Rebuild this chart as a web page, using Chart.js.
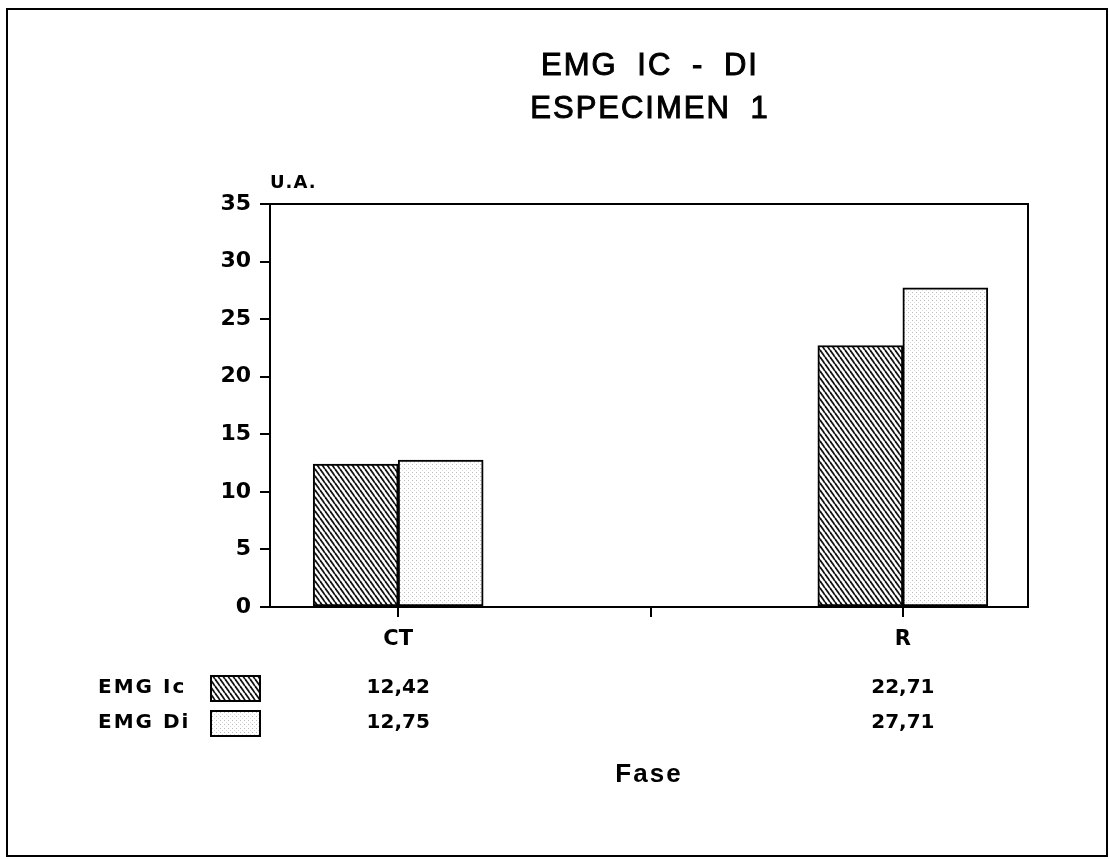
<!DOCTYPE html>
<html>
<head>
<meta charset="utf-8">
<script src="https://cdn.jsdelivr.net/npm/chart.js@4.4.1/dist/chart.umd.min.js"></script>
<style>
  html, body { margin: 0; padding: 0; background: #fff; }
  #contenedor { width: 1109px; height: 859px; position: relative; }
</style>
</head>
<body>
<div id="contenedor"><canvas id="emgChart"></canvas></div>
<script>
// Datos
const fases = ['CT', 'R'];
const emgIc = [12.42, 22.71];
const emgDi = [12.75, 27.71];
const nombresSeries = ['EMG Ic', 'EMG Di'];
const ticksY = [0, 5, 10, 15, 20, 25, 30, 35];
const titulo = ['EMG IC - DI', 'ESPECIMEN 1'];
const unidad = 'U.A.';
const tituloEjeX = 'Fase';

// Tramas de relleno (rayado y punteado)
function crearRayado() {
    const c = document.createElement('canvas');
    c.width = 5; c.height = 7;
    const g = c.getContext('2d');
    g.fillStyle = '#fff';
    g.fillRect(0, 0, 5, 7);
    g.strokeStyle = '#111';
    g.lineWidth = 1.8;
    for (const k of [-5, 0, 5]) {
        g.beginPath();
        g.moveTo(k, 0);
        g.lineTo(k + 5, 7);
        g.stroke();
    }
    return g.createPattern(c, 'repeat');
}

function crearPunteado() {
    const c = document.createElement('canvas');
    c.width = 4; c.height = 4;
    const g = c.getContext('2d');
    g.fillStyle = '#fff';
    g.fillRect(0, 0, 4, 4);
    g.fillStyle = '#bcbcbc';
    g.fillRect(0, 0, 1, 1);
    g.fillStyle = '#dadada';
    g.fillRect(2, 2, 1, 1);
    return g.createPattern(c, 'repeat');
}

const rayado = crearRayado();
const punteado = crearPunteado();
const rellenos = [rayado, punteado];

const fuente = 'DejaVu Sans';
const formato = v => v.toFixed(2).replace('.', ',');

// Marco, titulo, unidad y tabla de datos bajo el eje
const extras = {
    id: 'extras',
    afterDraw(chart) {
        const ctx = chart.ctx;
        const area = chart.chartArea;
        const xs = chart.scales.x;
        const centro = (area.left + area.right) / 2;
        ctx.save();

        // marco exterior
        ctx.strokeStyle = '#000';
        ctx.lineWidth = 2;
        ctx.strokeRect(7, 9, 1100, 847);

        // lados superior y derecho del area
        ctx.beginPath();
        ctx.moveTo(area.left, area.top);
        ctx.lineTo(area.right, area.top);
        ctx.lineTo(area.right, area.bottom);
        ctx.stroke();

        // titulo
        ctx.fillStyle = '#000';
        ctx.font = '31px "Liberation Sans"';
        ctx.textAlign = 'center';
        ctx.textBaseline = 'alphabetic';
        ctx.letterSpacing = '2px';
        ctx.wordSpacing = '9px';
        ctx.lineWidth = 1;
        [75, 118].forEach((y, i) => {
            ctx.fillText(titulo[i], centro + 1, y);
            ctx.strokeText(titulo[i], centro + 1, y);
        });
        ctx.letterSpacing = '0px';
        ctx.wordSpacing = '0px';
        ctx.lineWidth = 2;

        // unidad
        ctx.font = 'bold 18px "' + fuente + '"';
        ctx.letterSpacing = '1px';
        ctx.textAlign = 'left';
        ctx.textBaseline = 'middle';
        ctx.fillText(unidad, area.left, 183);

        // tabla de valores
        const series = chart.data.datasets;
        const filas = [688, 723];
        series.forEach((ds, i) => {
            const y = filas[i];
            ctx.font = 'bold 20px "' + fuente + '"';
            ctx.letterSpacing = '2px';
            ctx.textAlign = 'left';
            ctx.fillStyle = '#000';
            ctx.fillText(ds.label, 98, y);
            ctx.fillStyle = rellenos[i];
            ctx.fillRect(211, y - 12, 49, 25);
            ctx.strokeStyle = '#000';
            ctx.lineWidth = 2;
            ctx.strokeRect(211, y - 12, 49, 25);
            ctx.fillStyle = '#000';
            ctx.textAlign = 'center';
            ctx.letterSpacing = '0px';
            ds.data.forEach(p => {
                ctx.fillText(formato(p.y), xs.getPixelForValue(p.x), y);
            });
        });

        // titulo del eje x
        ctx.font = 'bold 26px "Liberation Sans"';
        ctx.letterSpacing = '2px';
        ctx.textAlign = 'center';
        ctx.fillText(tituloEjeX, centro, 775);
        ctx.restore();
    }
};

const ctx = document.getElementById('emgChart');
new Chart(ctx, {
    type: 'bar',
    data: {
        datasets: [
            {
                label: nombresSeries[0],
                data: emgIc.map((v, i) => ({ x: i + 1, y: v })),
                backgroundColor: rayado,
                borderColor: '#000',
                borderWidth: 2,
                borderSkipped: false
            },
            {
                label: nombresSeries[1],
                data: emgDi.map((v, i) => ({ x: i + 1, y: v })),
                backgroundColor: punteado,
                borderColor: '#000',
                borderWidth: 2,
                borderSkipped: false
            }
        ]
    },
    options: {
        responsive: true,
        maintainAspectRatio: false,
        animation: false,
        barThickness: 85,
        layout: { padding: { left: 200, right: 81, top: 204, bottom: 202 } },
        plugins: {
            legend: { display: false },
            title: { display: false },
            tooltip: { enabled: false }
        },
        scales: {
            x: {
                type: 'linear',
                offset: false,
                min: 0.746,
                max: 2.248,
                afterBuildTicks: s => {
                    const t = [];
                    fases.forEach((f, i) => {
                        t.push({ value: i + 1 });
                        if (i < fases.length - 1) t.push({ value: i + 1.5 });
                    });
                    s.ticks = t;
                },
                afterFit: s => { s.height = 50; },
                ticks: {
                    autoSkip: false,
                    maxRotation: 0,
                    padding: 10,
                    color: '#000',
                    font: { family: fuente, size: 21, weight: 'bold' },
                    callback: v => Number.isInteger(v) ? fases[v - 1] : ''
                },
                grid: { offset: false, drawOnChartArea: false, color: '#000', tickLength: 10, lineWidth: 2 },
                border: { color: '#000', width: 2 }
            },
            y: {
                min: 0,
                max: 35,
                afterBuildTicks: s => { s.ticks = ticksY.map(v => ({ value: v })); },
                afterFit: s => { s.width = 70; },
                ticks: {
                    padding: 9,
                    color: '#000',
                    font: { family: fuente, size: 22, weight: 'bold' }
                },
                grid: { drawOnChartArea: false, color: '#000', tickLength: 10, lineWidth: 2 },
                border: { color: '#000', width: 2 }
            }
        }
    },
    plugins: [extras]
});
</script>
</body>
</html>
